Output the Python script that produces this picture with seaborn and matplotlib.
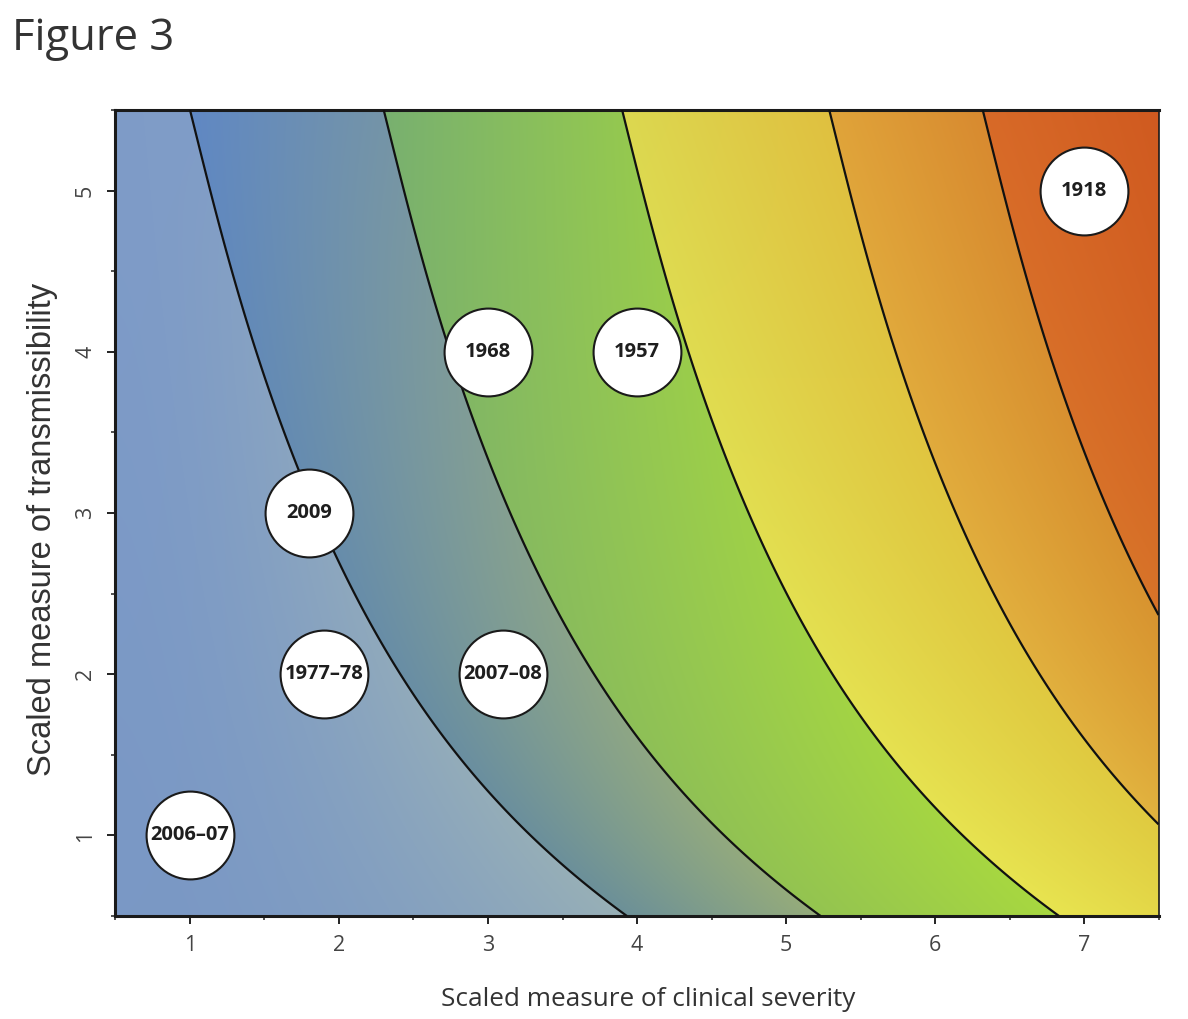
import numpy as np
import matplotlib
matplotlib.use("Agg")
import matplotlib.pyplot as plt
from matplotlib.colors import to_rgb
from matplotlib.ticker import MultipleLocator
import seaborn as sns

# pandemic / season positions on the severity x transmissibility plane
labels = ["1918", "1957", "1968", "2009", "1977–78", "2007–08", "2006–07"]
severity = [7.0, 4.0, 3.0, 1.8, 1.9, 3.1, 1.0]
transmissibility = [5.0, 4.0, 4.0, 3.0, 2.0, 2.0, 1.0]

# contour lines: x where each line meets the top edge (y = 5.5)
contour_top_x = [1.00, 2.30, 3.90, 5.29, 6.32]
# all lines share one shape: how far right the line has moved at a given y
shape_y = [0.5, 0.8, 1.05, 1.3, 1.7, 1.9, 2.25, 2.4, 2.78, 3.28, 3.74, 4.13, 4.74, 5.5]
shape_dx = [2.93, 2.53, 2.22, 1.98, 1.63, 1.48, 1.25, 1.16, 0.96, 0.72, 0.54, 0.40, 0.21, 0.0]

x_ticks = [1, 2, 3, 4, 5, 6, 7]
y_ticks = [1, 2, 3, 4, 5]

# band colours: (top-left, top-right, bottom-left, bottom-right) inside each band
band_colours = [
    ("#7f9cc8", "#7f9cc8", "#7a98c5", "#98b0b6"),
    ("#6088c4", "#7494a8", "#6c9098", "#96ac7a"),
    ("#78b070", "#94c850", "#94c450", "#a8d840"),
    ("#dcd850", "#e0c040", "#e8e450", "#e0cc40"),
    ("#e0a43a", "#d88a30", "#e2b540", "#d89a30"),
    ("#d86a28", "#d05a20", "#d87a2a", "#d06020"),
]
band_gamma = [1.8, 1.0, 1.0, 1.0, 1.0, 1.0]

sns.set_style("ticks")
plt.rcParams["font.family"] = ["Open Sans", "DejaVu Sans"]

fig = plt.figure(figsize=(11.88, 10.19), dpi=100)
ax = fig.add_axes([0.0972, 0.1011, 0.878, 0.791])

# smooth version of the read shape so the lines have no corners
coef = np.polyfit(shape_y, shape_dx, 5)

xs = np.linspace(0.5, 7.5, 1100)
ys = np.linspace(0.5, 5.5, 800)
X, Y = np.meshgrid(xs, ys)
G = np.polyval(coef, Y)
F = X - G

band = np.searchsorted(contour_top_x, F)
lo_edges = [None] + contour_top_x
hi_edges = contour_top_x + [7.5]
s = (Y - 0.5) / 5.0
img = np.zeros(X.shape + (3,))
for b, (tl, tr, bl, br) in enumerate(band_colours):
    m = band == b
    lo = (0.5 - G) if b == 0 else lo_edges[b]
    t = np.clip((F - lo) / (hi_edges[b] - lo), 0, 1) ** band_gamma[b]
    tl, tr, bl, br = [np.array(to_rgb(c)) for c in (tl, tr, bl, br)]
    top = (1 - t)[..., None] * tl + t[..., None] * tr
    bot = (1 - t)[..., None] * bl + t[..., None] * br
    col = (1 - s)[..., None] * bot + s[..., None] * top
    img[m] = col[m]

ax.imshow(img, extent=(0.5, 7.5, 0.5, 5.5), origin="lower", aspect="auto",
          interpolation="bilinear", zorder=1)
ax.contour(X, Y, F, levels=contour_top_x, colors="#111111", linewidths=1.6, zorder=3)

sns.scatterplot(x=severity, y=transmissibility, s=4000, color="white",
                edgecolor="#1a1a1a", linewidth=1.5, zorder=5, ax=ax, legend=False)
for lab, xv, yv in zip(labels, severity, transmissibility):
    ax.text(xv, yv, lab, ha="center", va="center", fontsize=14.5, fontweight="bold",
            color="#1e1e1e", zorder=6)

ax.set_xlim(0.5, 7.5)
ax.set_ylim(0.5, 5.5)
ax.set_xticks(x_ticks)
ax.set_yticks(y_ticks)
ax.xaxis.set_minor_locator(MultipleLocator(0.5))
ax.yaxis.set_minor_locator(MultipleLocator(0.5))
ax.tick_params(which="major", length=6, width=1.4, color="#222222",
               labelsize=15.5, labelcolor="#444444", pad=8)
ax.tick_params(which="minor", length=3, width=1.1, color="#222222")
ax.tick_params(axis="y", labelrotation=90)
for lbl in ax.get_yticklabels():
    lbl.set_va("center")

for side in ["left", "bottom", "top"]:
    ax.spines[side].set_linewidth(2.2)
    ax.spines[side].set_color("#1a1a1a")
ax.spines["right"].set_linewidth(1.2)
ax.spines["right"].set_color("#1a1a1a")

ax.set_xlabel("Scaled measure of clinical severity", fontsize=18.8, color="#333333", va="center")
ax.xaxis.set_label_coords(0.511, -0.103)
ax.set_ylabel("Scaled measure of transmissibility", fontsize=23.5, color="#333333",
              family=["Liberation Sans", "DejaVu Sans"], va="center")
ax.yaxis.set_label_coords(-0.070, 0.48)

fig.text(0.0101, 0.951, "Figure 3", fontsize=31.4, color="#333333", va="baseline")

fig.savefig("out.png", dpi=100)
